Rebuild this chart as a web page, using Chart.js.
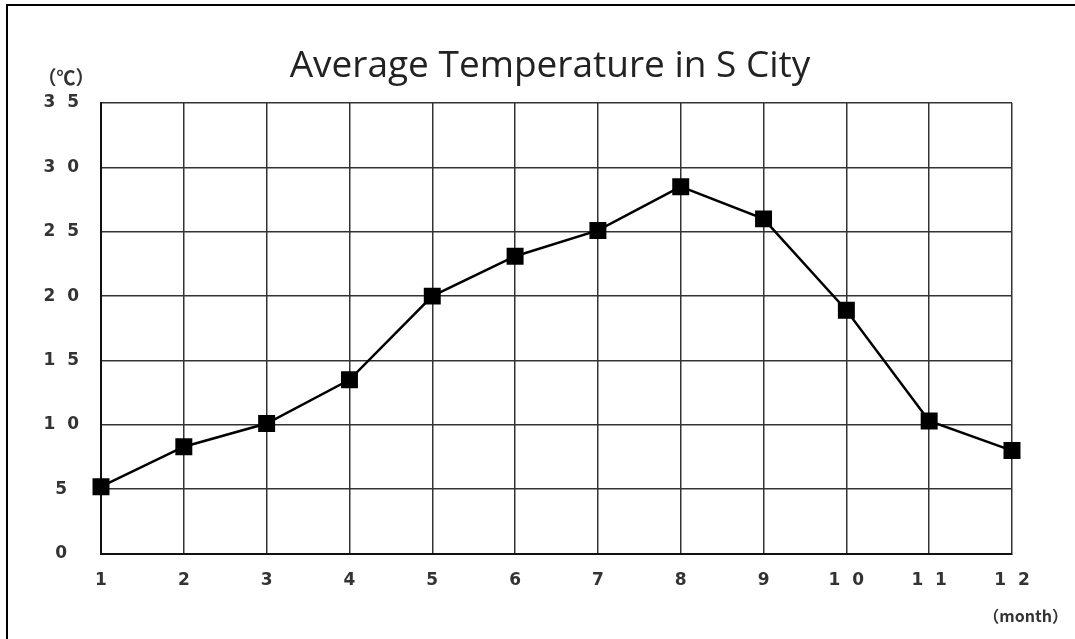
<!DOCTYPE html>
<html>
<head>
<meta charset="utf-8">
<script src="https://cdn.jsdelivr.net/npm/chart.js@4"></script>
<style>
  html, body { margin: 0; padding: 0; background: #fff; }
  #wrap { width: 1075px; height: 639px; position: relative; }
</style>
</head>
<body>
<div id="wrap"><canvas id="tempChart"></canvas></div>
<script>
const months = ['1', '2', '3', '4', '5', '6', '7', '8', '9', '10', '11', '12'];
const temps = [5.2, 8.3, 10.1, 13.5, 20.0, 23.1, 25.1, 28.5, 26.0, 18.9, 10.3, 8.0];
const yTicks = [0, 5, 10, 15, 20, 25, 30, 35];

const chartTitle = 'Average Temperature in S City';
const yUnit = '（℃）';
const xUnit = '（month）';

// space out the digits like the original ("1 0", "3 5")
const spaced = (s) => String(s).split('').join('  ');

const tickFont = { family: '"DejaVu Sans", sans-serif', size: 17, weight: 'bold' };

const textPlugin = {
    id: 'textPlugin',
    beforeDraw(chart) {
        const ctx = chart.ctx;
        ctx.save();
        ctx.fillStyle = '#fff';
        ctx.fillRect(0, 0, chart.width, chart.height);
        // outer frame (only top and left edges are visible)
        ctx.strokeStyle = '#000';
        ctx.lineWidth = 2;
        ctx.beginPath();
        ctx.moveTo(7, chart.height);
        ctx.lineTo(7, 5);
        ctx.lineTo(chart.width, 5);
        ctx.stroke();
        ctx.restore();
    },
    afterDraw(chart) {
        const ctx = chart.ctx;
        const area = chart.chartArea;
        ctx.save();
        ctx.fillStyle = '#222';
        ctx.font = '37px "Open Sans", sans-serif';
        ctx.textAlign = 'center';
        ctx.textBaseline = 'middle';
        ctx.fillText(chartTitle, 550, 66);

        ctx.fillStyle = '#333';
        ctx.font = 'bold 19px "Noto Sans CJK JP", sans-serif';
        ctx.textAlign = 'center';
        ctx.fillText(yUnit, 66, 78);
        ctx.font = 'bold 16px "Noto Sans CJK JP", sans-serif';
        ctx.textAlign = 'right';
        ctx.fillText(xUnit, area.right + 56, area.bottom + 62);
        ctx.restore();
    }
};

new Chart(document.getElementById('tempChart'), {
    type: 'line',
    data: {
        labels: months,
        datasets: [{
            label: 'Temperature',
            data: temps,
            borderColor: '#000',
            borderWidth: 2.5,
            backgroundColor: '#000',
            pointStyle: 'rect',
            pointRadius: 12,
            pointBorderWidth: 0,
            tension: 0,
            fill: false
        }]
    },
    options: {
        responsive: true,
        maintainAspectRatio: false,
        animation: false,
        layout: {
            padding: { left: 0, right: 63, top: 103, bottom: 31 }
        },
        plugins: {
            legend: { display: false },
            title: { display: false },
            tooltip: { enabled: false }
        },
        scales: {
            x: {
                offset: false,
                grid: { color: '#333', lineWidth: 1.5, drawTicks: false, offset: false },
                border: { color: '#111', width: 2 },
                ticks: {
                    color: '#333',
                    font: tickFont,
                    padding: 17,
                    maxRotation: 0,
                    callback: (v, i) => spaced(months[i])
                }
            },
            y: {
                min: 0,
                max: 35,
                afterBuildTicks: (scale) => { scale.ticks = yTicks.map(v => ({ value: v })); },
                afterFit: (scale) => { scale.width = 101; },
                grid: { color: '#333', lineWidth: 1.5, drawTicks: false },
                border: { color: '#111', width: 2 },
                ticks: {
                    color: '#333',
                    font: tickFont,
                    padding: 22,
                    crossAlign: 'center',
                    callback: (v) => spaced(v)
                }
            }
        }
    },
    plugins: [textPlugin]
});
</script>
</body>
</html>
